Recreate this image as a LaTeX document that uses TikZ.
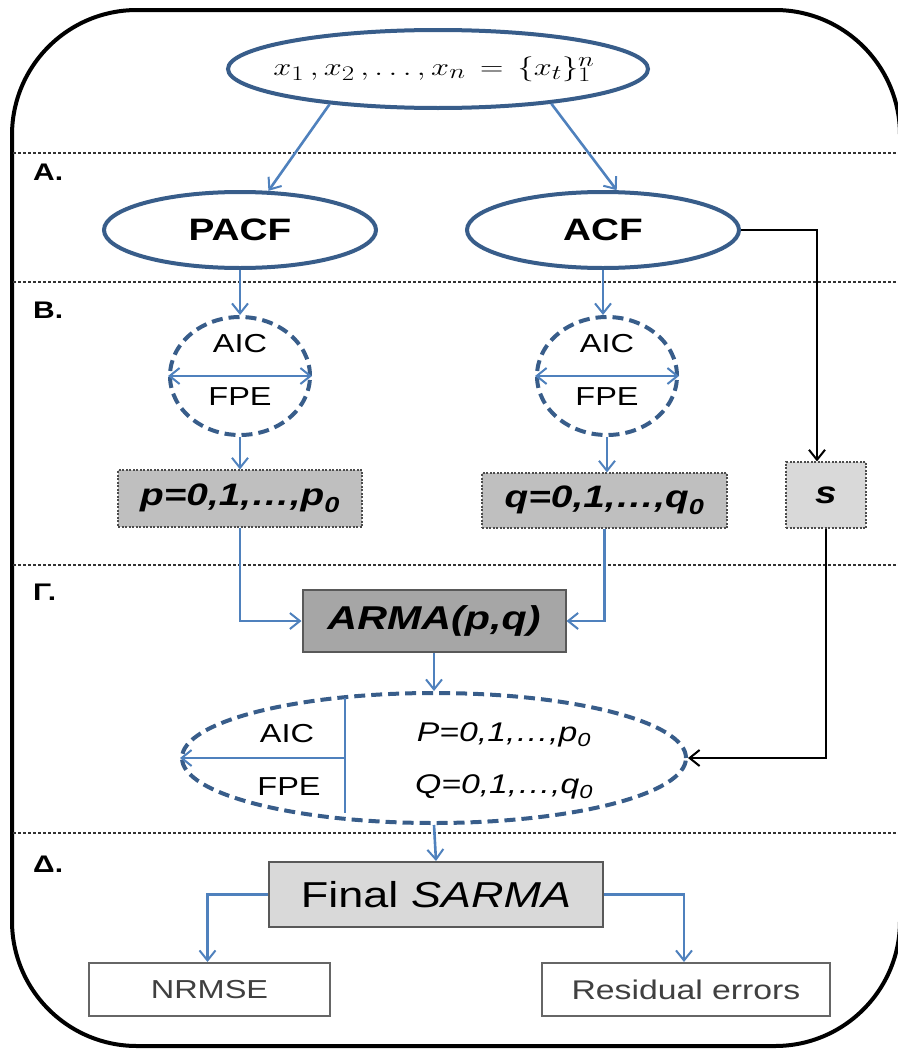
\documentclass[tikz,border=0pt]{standalone}
\usepackage{fontspec}
\setmainfont{Liberation Sans}[FakeStretch=1.25]
\usetikzlibrary{shapes.geometric,arrows.meta}
\definecolor{barr}{RGB}{79,129,189}
\definecolor{bdark}{RGB}{56,93,138}
\definecolor{gmid}{RGB}{191,191,191}
\definecolor{glight}{RGB}{217,217,217}
\definecolor{gdark}{RGB}{166,166,166}
\definecolor{txtgray}{RGB}{64,64,64}
\newcommand{\fs}[1]{\fontsize{#1}{#1}\selectfont}
\tikzset{
  barb/.tip={Straight Barb[length=10pt,width=16pt,line width=2pt]},
  bluearrow/.style={draw=barr,line width=2.6pt,-barb},
  blackarrow/.style={draw=black,line width=2.5pt,-barb},
  solidell/.style={ellipse,draw=bdark,line width=4pt,inner sep=0pt,fill=white},
  dashell/.style={ellipse,draw=bdark,line width=4pt,dash pattern=on 11pt off 6pt,inner sep=0pt},
  dotbox/.style={rectangle,draw=black!70,line width=1.2pt,dash pattern=on 2pt off 1.5pt,inner sep=0pt},
  solidbox/.style={rectangle,draw=black!65,line width=2pt,inner sep=0pt},
  secline/.style={draw=black!80,line width=1.6pt,dash pattern=on 3pt off 2pt},
  seclabel/.style={anchor=west,inner sep=0pt,font=\fs{24}\bfseries},
}
\begin{document}
\begin{tikzpicture}[x=1pt,y=-1pt]
\useasboundingbox (0,0) rectangle (897,1052);
% outer frame
\draw[line width=4pt,rounded corners=125pt] (12,10) rectangle (900,1046);
% section lines
\draw[secline] (13,153) -- (897,153);
\draw[secline] (13,282) -- (897,282);
\draw[secline] (13,565) -- (897,565);
\draw[secline] (13,833) -- (897,833);
\node[seclabel] (la) at (33,172) {A.};
\node[seclabel] (lb) at (33,310) {B.};
\node[seclabel] (lg) at (33,592) {Γ.};
\node[seclabel] (ld) at (33,864) {Δ.};
% nodes
\node[solidell,minimum width=420pt,minimum height=78pt] (top) at (438,69) {};
\node[inner sep=0pt] (formula) at (434,69) {\scalebox{1.3}[1]{\fs{30}$x_1\,,x_2\,,\ldots,x_n\,=\,\{x_t\}_1^n$}};
\node[solidell,minimum width=272pt,minimum height=76pt,font=\fs{31}\bfseries] (pacf) at (240,230) {PACF};
\node[solidell,minimum width=272pt,minimum height=76pt,font=\fs{31}\bfseries] (acf) at (603,230) {ACF};
\node[dashell,minimum width=140pt,minimum height=118pt] (c1) at (240,376) {};
\node[dashell,minimum width=140pt,minimum height=118pt] (c2) at (607,376) {};
\node[font=\fs{26}] (aic1) at (240,344) {AIC};
\node[font=\fs{26}] (fpe1) at (240,397) {FPE};
\node[font=\fs{26}] (aic2) at (607,344) {AIC};
\node[font=\fs{26}] (fpe2) at (607,397) {FPE};
\node[dotbox,fill=gmid,minimum width=244pt,minimum height=57pt,font=\fs{31}\bfseries\itshape] (pbox) at (240,498.5) {p=0,1,…,p\textsubscript{0}};
\node[dotbox,fill=gmid,minimum width=245pt,minimum height=55pt,font=\fs{31}\bfseries\itshape] (qbox) at (604.5,500.5) {q=0,1,…,q\textsubscript{0}};
\node[dotbox,fill=glight,minimum width=80pt,minimum height=66pt,font=\fs{31}\bfseries\itshape] (sbox) at (826,495) {s};
\node[solidbox,fill=gdark,minimum width=263pt,minimum height=62pt,font=\fs{33}\bfseries\itshape] (arma) at (434,621) {ARMA(p,q)};
\node[dashell,minimum width=504pt,minimum height=130pt] (big) at (434,758) {};
\node[font=\fs{26}] (aic3) at (287,734) {AIC};
\node[font=\fs{26}] (fpe3) at (289,787) {FPE};
\node[font=\fs{27}\itshape] (pp) at (504,735) {P=0,1,…,p\textsubscript{0}};
\node[font=\fs{27}\itshape] (qq) at (504,787) {Q=0,1,…,q\textsubscript{0}};
\coordinate (vtop) at (345,698);
\coordinate (vbot) at (345,813);
\node[solidbox,fill=glight,minimum width=334pt,minimum height=65pt,font=\fs{36}] (final) at (436,894.5) {Final \textit{SARMA}};
\node[solidbox,draw=black!60,fill=white,minimum width=241pt,minimum height=53pt,font=\fs{26},text=txtgray] (nrmse) at (209.5,989.5) {NRMSE};
\node[solidbox,draw=black!60,fill=white,minimum width=288pt,minimum height=53pt,font=\fs{27},text=txtgray] (resid) at (686,989.5) {Residual errors};
% connectors
\draw[bluearrow] (top.198) -- (pacf.54);
\draw[bluearrow] (top.343) -- (acf.71);
\draw[blackarrow] (acf.east) -| ([xshift=-9pt]sbox.north);
\draw[bluearrow] (pacf.south) -- (c1.north);
\draw[bluearrow] (acf.south) -- (acf.south |- c2.north);
\draw[barr,line width=2pt,barb-barb] (c1.west) -- (c1.east);
\draw[barr,line width=2pt,barb-barb] (c2.west) -- (c2.east);
\draw[bluearrow] (c1.south) -- (pbox.north);
\draw[bluearrow] (c2.south) -- (c2.south |- qbox.north);
\draw[bluearrow] (pbox.south) |- (arma.west);
\draw[bluearrow] (qbox.south) |- (arma.east);
\draw[bluearrow] (arma.south) -- (big.north);
\draw[blackarrow] (sbox.south) |- (big.east);
\draw[barr,line width=2pt] (vtop) -- (vbot);
\draw[barr,line width=2pt,-barb] (vtop |- big.west) -- (big.west);
\draw[bluearrow] (big.south) -- (final.north);
\draw[bluearrow] (final.west) -| ([xshift=-2pt]nrmse.north);
\draw[bluearrow] (final.east) -| ([xshift=-2pt]resid.north);
\end{tikzpicture}
\end{document}
